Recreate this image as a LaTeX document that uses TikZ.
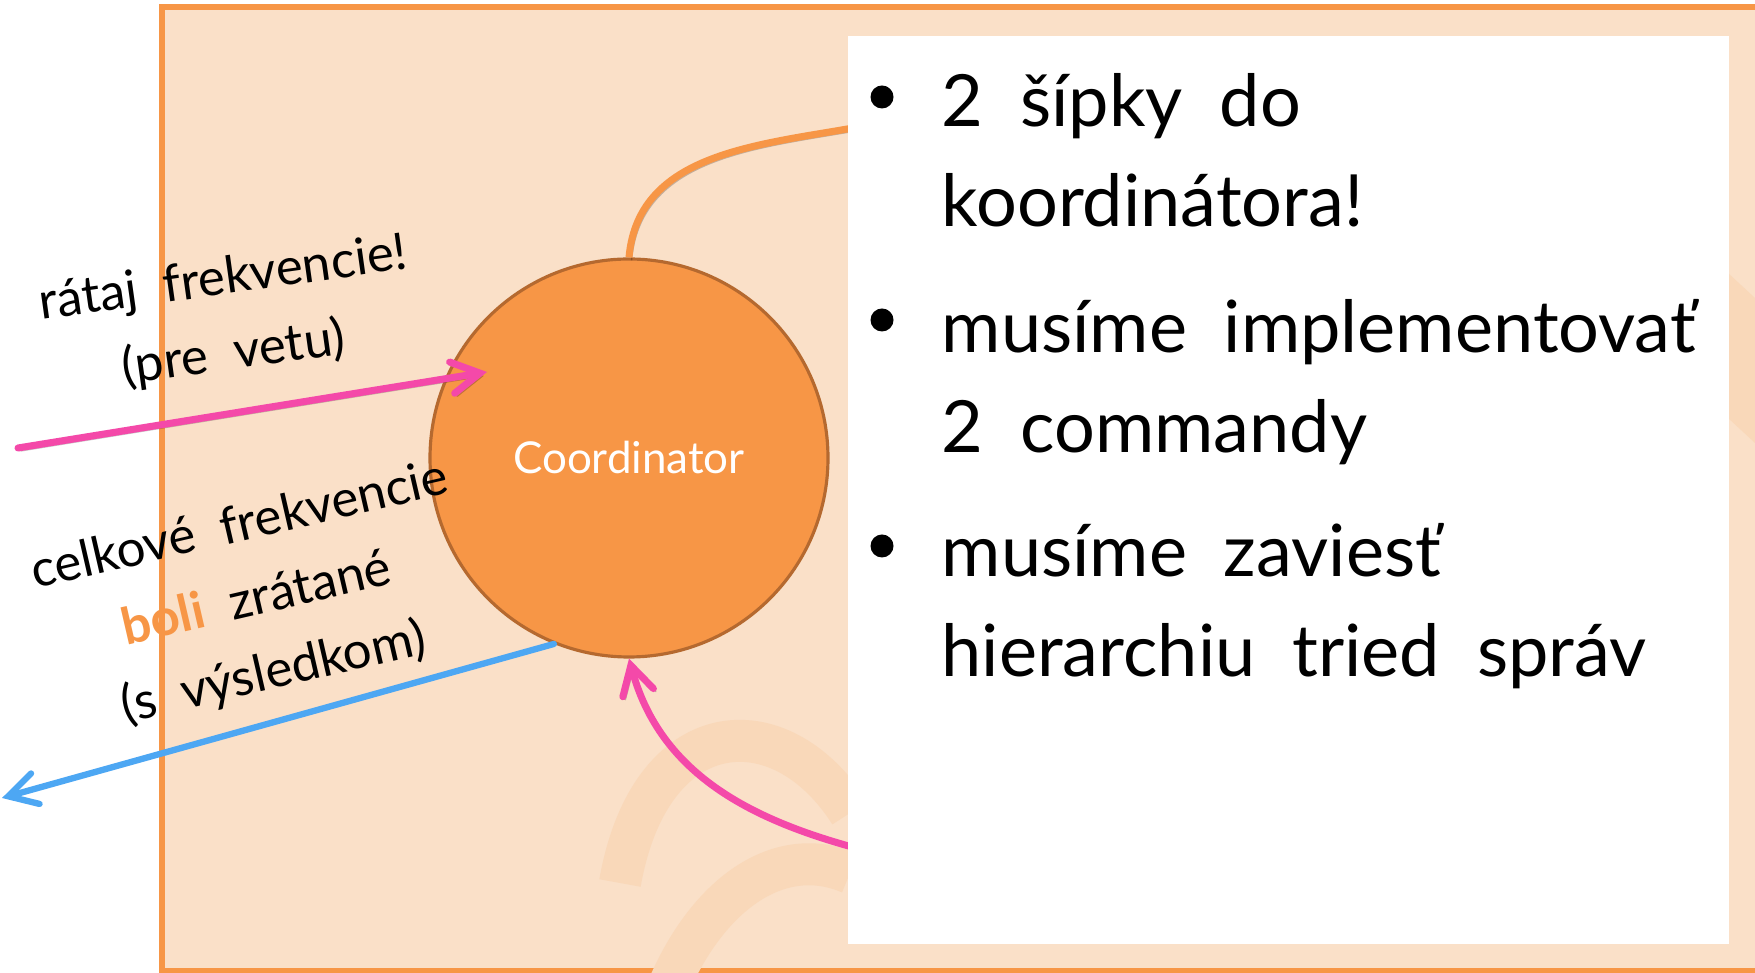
\documentclass[tikz,border=0pt]{standalone}
\usepackage{fontspec}
\setmainfont{Lato}[WordSpace=2]
\usetikzlibrary{arrows.meta}

\definecolor{panelbg}{HTML}{FAE0C8}
\definecolor{panelline}{HTML}{F79646}
\definecolor{wmark}{HTML}{F9D8B9}
\definecolor{coordfill}{HTML}{F79646}
\definecolor{coordline}{HTML}{B5692F}
\definecolor{pinkline}{HTML}{F449A9}
\definecolor{blueline}{HTML}{4DA7F3}

\tikzset{
  coordnode/.style={circle, fill=coordfill, draw=coordline, line width=0.9pt, minimum size=3.98cm, inner sep=0pt, text=white, font=\fontsize{12.5}{15}\selectfont},
  shadeline/.style={preaction={draw=black, opacity=.22, transform canvas={shift={(0.025,-0.03)}}}},
  barb/.style={-{Straight Barb[length=8pt,width=9pt,line cap=round]}},
  pinkarrow/.style={draw=pinkline, line width=2pt, line cap=round, barb, shadeline},
  bluearrow/.style={draw=blueline, line width=1.8pt, line cap=round, barb},
  orangeline/.style={draw=panelline, line width=2pt, shadeline},
  note/.style={anchor=base, align=center, inner sep=0pt, font=\fontsize{14.5}{21.5}\selectfont},
  item/.style={anchor=base west, align=left, inner sep=0pt, font=\fontsize{20.5}{28.7}\selectfont},
  dot/.style={circle, fill=black, minimum size=0.23cm, inner sep=0pt}
}

\begin{document}
\begin{tikzpicture}
\useasboundingbox (0,0) rectangle (17.55,9.73);
\fill[white] (0,0) rectangle (17.55,9.73);

% slide panel
\draw[panelline, fill=panelbg, line width=1.5pt] (1.62,0.02) rectangle (17.8,9.66);
% faint watermark
\draw[wmark, line width=0.42cm] (6.2,0.9) .. controls (6.5,2.6) and (7.8,2.7) .. (8.5,1.6);
\draw[wmark, line width=0.42cm] (6.7,-0.1) .. controls (7.1,0.8) and (7.8,1.3) .. (8.5,1.0);
\fill[wmark] (17.28,7.0) -- (17.55,6.75) -- (17.55,5.3) -- (17.28,5.55) -- cycle;

\node[coordnode] (coord) at (6.29,5.15) {Coordinator};

\coordinate (inL) at (0.18,5.25);
\coordinate (hit) at (4.87,6.01);
\coordinate (outL) at (0.02,1.75);
\coordinate (toNotes) at (8.75,8.49);
\coordinate (fromNotes) at (8.75,1.2);

\draw[orangeline] (coord.north) to[out=85,in=191] (toNotes);
\draw[pinkarrow] (fromNotes) to[out=166,in=-75] (coord.south);
\draw[pinkarrow] (inL) -- (hit);
\draw[bluearrow] (coord.248) -- (outL);

% notes on the right
\node[fill=white, minimum width=8.81cm, minimum height=9.08cm, anchor=south west, inner sep=0pt] (notes) at (8.47,0.28) {};

\node[dot] (d1) at (8.82,8.76) {};
\node[dot] (d2) at (8.82,6.53) {};
\node[dot] (d3) at (8.82,4.27) {};
\node[item] (it1) at (9.41,7.46) {2 šípky do\\koordinátora!};
\node[item] (it2) at (9.41,5.20) {musíme implementovať\\2 commandy};
\node[item] (it3) at (9.41,2.96) {musíme zaviesť\\hierarchiu tried správ};

% labels of the arrows
\node[note, rotate=8] (count) at (2.36,6.04) {rátaj frekvencie!\\(pre vetu)};
\node[note, rotate=13] (total) at (2.77,2.85) {celkové frekvencie\\\textbf{\color{panelline}boli} zrátané\\(s výsledkom)};
\end{tikzpicture}
\end{document}
